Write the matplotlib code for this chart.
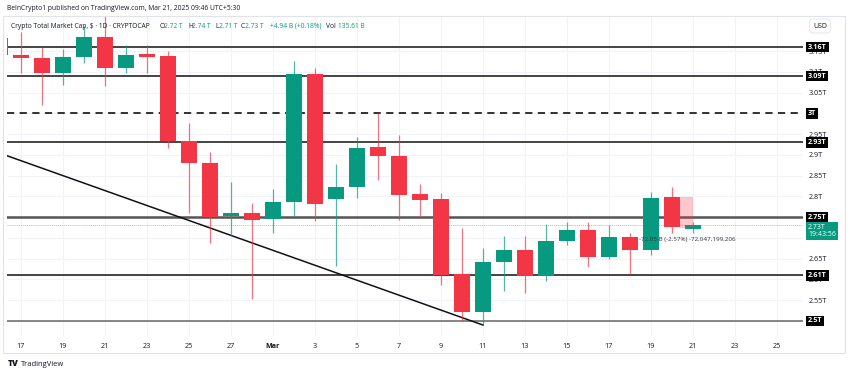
import pandas as pd
import numpy as np
import matplotlib.pyplot as plt
import matplotlib.transforms as mtransforms
from matplotlib.patches import Rectangle

plt.rcParams['font.family'] = ['Open Sans', 'DejaVu Sans']

# daily candles, Crypto Total Market Cap (trillions USD)
dates = pd.date_range('2025-02-16', '2025-03-21', freq='D')
opens = [3.182, 3.141, 3.133, 3.097, 3.136, 3.184, 3.109, 3.143, 3.138, 2.933,
         2.880, 2.753, 2.760, 2.746, 2.786, 3.095, 2.794, 2.823, 2.919, 2.897,
         2.806, 2.794, 2.613, 2.521, 2.642, 2.671, 2.608, 2.692, 2.719, 2.654,
         2.702, 2.671, 2.798, 2.722]
highs = [3.190, 3.196, 3.160, 3.155, 3.210, 3.235, 3.165, 3.165, 3.150, 2.977,
         2.907, 2.835, 2.784, 2.818, 3.126, 3.109, 2.878, 2.943, 3.000, 2.948,
         2.830, 2.808, 2.724, 2.676, 2.705, 2.705, 2.733, 2.738, 2.738, 2.731,
         2.712, 2.811, 2.823, 2.738]
lows = [3.130, 3.097, 3.020, 3.068, 3.121, 3.066, 3.097, 3.097, 2.917, 2.760,
        2.688, 2.705, 2.553, 2.712, 2.750, 2.741, 2.632, 2.796, 2.840, 2.743,
        2.750, 2.586, 2.500, 2.490, 2.572, 2.567, 2.596, 2.683, 2.630, 2.649,
        2.613, 2.659, 2.712, 2.712]
closes = [3.141, 3.133, 3.097, 3.136, 3.184, 3.109, 3.141, 3.136, 2.933, 2.880,
          2.750, 2.760, 2.743, 2.786, 3.095, 2.782, 2.822, 2.917, 2.897, 2.803,
          2.791, 2.610, 2.521, 2.642, 2.671, 2.608, 2.692, 2.719, 2.654, 2.702,
          2.671, 2.796, 2.726, 2.730]

# horizontal support / resistance levels
levels = [3.16, 3.09, 3.0, 2.93, 2.75, 2.61, 2.5]
level_labels = ['3.16T', '3.09T', '3T', '2.93T', '2.75T', '2.61T', '2.5T']

# descending trend line
trend_dates = ['2025-02-16', '2025-03-11']
trend_values = [2.904, 2.49]

last_price = 2.73
measure_from = 2.798
measure_to = 2.726

green = '#089981'
red = '#f23645'
txt = '#131722'

day0 = pd.Timestamp('2025-02-17')
x = np.array((dates - day0).days)
o = np.array(opens)
c = np.array(closes)
colors = [green if cc >= oo else red for oo, cc in zip(o, c)]

W, H = 850, 374
fig = plt.figure(figsize=(8.5, 3.74), dpi=100)
ax = fig.add_axes([7 / W, 1 - 336 / H, (803 - 7) / W, (336 - 17) / H])

# wicks and bodies
ax.vlines(x, lows, highs, colors=colors, linewidth=0.9, alpha=0.7, zorder=3)
body_bottom = np.minimum(o, c)
body_height = np.maximum(np.abs(c - o), 0.003)
ax.bar(x, body_height, bottom=body_bottom, width=0.78, color=colors,
       linewidth=0, zorder=4)

ax.set_xlim(-0.667, 37.24)
ax.set_ylim(2.4636, 3.2323)

# level lines
styles = {3.16: ('#444444', '-', 1.4), 3.09: ('#444444', '-', 1.4),
          3.0: ('#222222', (0, (4, 3)), 1.3), 2.93: ('#444444', '-', 1.4),
          2.75: ('#555555', '-', 1.8), 2.61: ('#111111', '-', 1.1),
          2.5: ('#666666', '-', 1.1)}
for lv in levels:
    col, ls, lw = styles[lv]
    ax.axhline(lv, color=col, linestyle=ls, linewidth=lw, zorder=2)

ax.axhline(last_price, color=green, linestyle=(0, (1, 1)), linewidth=0.7,
           alpha=0.45, zorder=2)

# trend line
tx = [(pd.Timestamp(d) - day0).days for d in trend_dates]
ax.plot(tx, trend_values, color='#111111', linewidth=1.1, zorder=2)

# measurement box on last candles
mx = (pd.Timestamp('2025-03-20') - day0).days
ax.add_patch(Rectangle((mx + 0.33, measure_to), 0.62, measure_from - measure_to,
                       facecolor='#f23645', alpha=0.28, edgecolor='#f23645',
                       linewidth=0.5, zorder=5))
ax.text(mx - 1.55, measure_to - 0.031,
        '-72.05 B (-2.57%) -72,047,199,206', fontsize=4.5, color='#333333',
        va='center', ha='left', zorder=6)

# grid and axes
tick_dates = pd.date_range('2025-02-17', '2025-03-25', freq='2D')
ax.set_xticks([(d - day0).days for d in tick_dates])
ax.set_xticklabels(['Mar' if d.day == 1 else str(d.day) for d in tick_dates],
                   fontsize=5.2, color=txt)
for lab, d in zip(ax.get_xticklabels(), tick_dates):
    if d.day == 1:
        lab.set_fontweight('bold')
yt = np.round(np.arange(2.5, 3.151, 0.05), 2)
hidden = {2.5, 2.7, 2.75, 3.0}
ax.set_yticks(yt)
ax.set_yticklabels(['' if v in hidden else f'{v:g}T' for v in yt],
                   fontsize=5.2, color=txt)
ax.yaxis.tick_right()
ax.tick_params(length=0)
ax.tick_params(axis='x', pad=5)
ax.tick_params(axis='y', pad=4)
ax.grid(color='#f0f3fa', linewidth=0.8, zorder=0)
ax.set_axisbelow(True)
for s in ax.spines.values():
    s.set_visible(False)

# boxed price labels on the right scale
tr = mtransforms.blended_transform_factory(fig.transFigure, ax.transData)
for lv, lab in zip(levels, level_labels):
    ax.text(808 / W, lv, lab, transform=tr, fontsize=5.2, color='white',
            fontweight='bold', va='center', ha='left', clip_on=False, zorder=10,
            bbox=dict(boxstyle='square,pad=0.25', facecolor='#000000',
                      edgecolor='none'))
ax.text(808 / W, last_price - 0.0135, '2.73T\n19:43:56', transform=tr,
        fontsize=5.0, color='white', va='center', ha='left', clip_on=False,
        zorder=11, linespacing=1.1,
        bbox=dict(boxstyle='square,pad=0.3', facecolor=green, edgecolor='none'))

fig.text(813 / W, 1 - 26 / H, 'USD', fontsize=5, color=txt, va='center',
         bbox=dict(boxstyle='round,pad=0.5', facecolor='white',
                   edgecolor='#e0e3eb', linewidth=0.6))

# outer frame
fig.patches.append(Rectangle((3 / W, 1 - 353 / H), 842 / W, 337 / H,
                             transform=fig.transFigure, fill=False,
                             edgecolor='#e0e3eb', linewidth=0.8))

# header
fig.text(7 / W, 1 - 9 / H,
         'BeInCrypto1 published on TradingView.com, Mar 21, 2025 09:46 UTC+5:30',
         fontsize=4.9, color=txt, va='center')
hy = 1 - 26 / H
fig.text(11 / W, hy, 'Crypto Total Market Cap, $ \u00b7 1D \u00b7 CRYPTOCAP',
         fontsize=4.8, color=txt, va='center')
parts = [(160, 'O', txt), (164, '2.72 T', green), (188, 'H', txt),
         (192, '2.74 T', green), (215, 'L', txt), (219, '2.71 T', green),
         (241, 'C', txt), (245, '2.73 T', green), (270, '+4.94 B (+0.18%)', green),
         (326, 'Vol', txt), (338, '135.61 B', green)]
for px, s, col in parts:
    fig.text(px / W, hy, s, fontsize=4.8, color=col, va='center')

# footer
fig.text(8 / W, 1 - 364 / H, 'TV', fontsize=6, fontweight='heavy', color=txt,
         va='center')
fig.text(21 / W, 1 - 364 / H, 'TradingView', fontsize=5.5, color=txt,
         va='center')

fig.savefig('out.png', dpi=100, facecolor='white')
